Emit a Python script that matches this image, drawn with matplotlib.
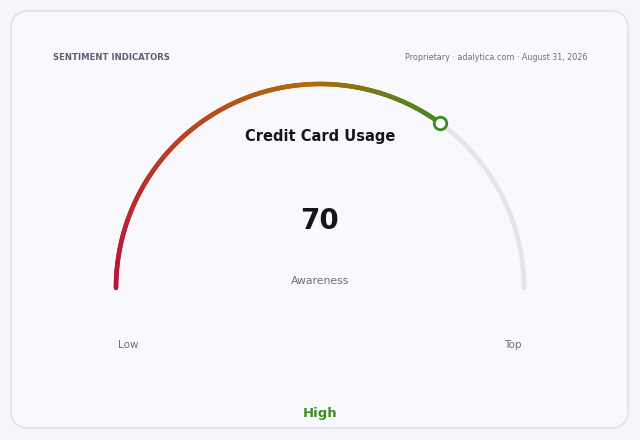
import numpy as np
import matplotlib
matplotlib.use("Agg")
import matplotlib.pyplot as plt
from matplotlib.collections import LineCollection
from matplotlib.colors import LinearSegmentedColormap
from matplotlib.patches import FancyBboxPatch

# gauge data
gauge_title = "Credit Card Usage"
gauge_value = 70
gauge_min = 0
gauge_max = 100
gauge_label = "Awareness"
range_labels = ["Low", "Top"]
status_text = "High"
header_left = "SENTIMENT INDICATORS"
header_right = "Proprietary · adalytica.com · August 31, 2026"

# colours (position along the filled arc, colour)
grad_stops = [(0.0, "#bb123d"), (0.68, "#b3690b"), (1.0, "#3e8a1f")]
track_color = "#e4e4e9"
status_color = "#3f8a22"

fig = plt.figure(figsize=(6.4, 4.4), dpi=100)
fig.patch.set_facecolor("#f6f6fa")
ax = fig.add_axes([0, 0, 1, 1])
ax.set_xlim(0, 640)
ax.set_ylim(440, 0)
ax.axis("off")

# card
card = FancyBboxPatch((11, 11), 617, 417, boxstyle="round,pad=0,rounding_size=18",
                      facecolor="#f9f9fd", edgecolor="#dcdce6", linewidth=1.0)
ax.add_patch(card)

cx, cy, R = 320, 288, 204
frac = (gauge_value - gauge_min) / (gauge_max - gauge_min)

# grey track for the rest of the gauge
th_rest = np.linspace(np.pi * (1 - frac), 0, 100)
ax.plot(cx + R * np.cos(th_rest), cy - R * np.sin(th_rest), color=track_color,
        lw=3.3, solid_capstyle="round", zorder=2)

# gradient arc up to the value
cmap = LinearSegmentedColormap.from_list("gauge", grad_stops)
th = np.linspace(np.pi, np.pi * (1 - frac), 300)
px = cx + R * np.cos(th)
py = cy - R * np.sin(th)
pts = np.column_stack([px, py]).reshape(-1, 1, 2)
segs = np.concatenate([pts[:-1], pts[1:]], axis=1)
t = np.linspace(0, 1, len(segs))
lc = LineCollection(segs, colors=cmap(t), linewidths=3.3, capstyle="round", zorder=3)
ax.add_collection(lc)

# marker at value
ax.plot(px[-1], py[-1], "o", ms=9, mfc="white", mec=grad_stops[-1][1], mew=2, zorder=4)

# texts
ax.text(53, 57, header_left, fontsize=6.1, fontweight="bold", color="#5b5f73",
        ha="left", va="center")
ax.text(587, 57, header_right, fontsize=5.8, color="#6b6f80", ha="right", va="center")
ax.text(cx, 137, gauge_title, fontsize=10.5, fontweight="bold", color="#15151c",
        ha="center", va="center")
ax.text(cx, 221, str(gauge_value), fontsize=20, fontweight="bold", color="#15151c",
        ha="center", va="center")
ax.text(cx, 281, gauge_label, fontsize=7.8, color="#6b6f80", ha="center", va="center")
ax.text(118, 345, range_labels[0], fontsize=7.5, color="#6b6f80", ha="left", va="center")
ax.text(522, 345, range_labels[1], fontsize=7.5, color="#6b6f80", ha="right", va="center")
ax.text(cx, 414, status_text, fontsize=9.5, fontweight="bold", color=status_color,
        ha="center", va="center")

fig.savefig("out.png", dpi=100, facecolor=fig.get_facecolor())
